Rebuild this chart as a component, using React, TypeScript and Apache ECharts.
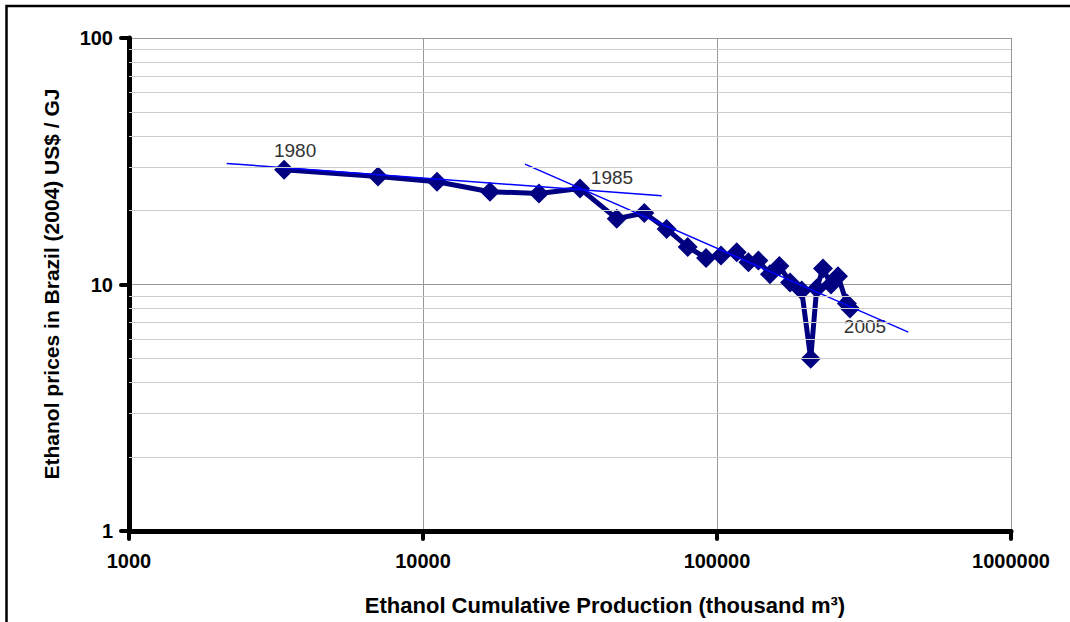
import React, { useEffect, useRef } from "react";
import * as echarts from "echarts";

// Cumulative production (thousand m3) and price (US$/GJ), 1980..2005
const production = [
  3370, 7030, 11160, 16900, 24800, 34200, 45600, 56600, 67400, 79500, 91800,
  103200, 116700, 127900, 138300, 151400, 163000, 177200, 194100, 208300,
  218300, 229400, 244200, 258000, 276600, 283400,
];
const prices = [
  29.2, 27.4, 26.1, 23.8, 23.4, 24.5, 18.5, 19.5, 16.8, 14.2, 12.8, 13.1, 13.5,
  12.3, 12.5, 11.0, 11.9, 10.2, 9.46, 5.0, 9.64, 11.6, 10.0, 10.8, 8.38, 8.0,
];
const yearLabelIndex = [0, 5, 25];
const yearLabelText = ["1980", "1985", "2005"];
const yearLabelOffset = [
  [11, -19],
  [32, -11],
  [15, 18],
];

const trend1X = [2150, 64850];
const trend1Y = [31.0, 22.9];
const trend2X = [22230, 447500];
const trend2Y = [30.8, 6.41];

const yMinorGrid = [2, 3, 4, 5, 6, 7, 8, 9, 20, 30, 40, 50, 60, 70, 80, 90];

const xTitle = "Ethanol Cumulative Production (thousand m³)";
const yTitle = "Ethanol prices in Brazil (2004) US$ / GJ";

const FONT = "'Liberation Sans', Arial, Helvetica, sans-serif";

export default function App() {
  const ref = useRef<HTMLDivElement>(null);

  useEffect(() => {
    if (!ref.current) return;
    const chart = echarts.init(ref.current, undefined, { renderer: "svg" });

    const mainData = production.map((x, i) => {
      const k = yearLabelIndex.indexOf(i);
      if (k < 0) return [x, prices[i]];
      return {
        value: [x, prices[i]],
        label: {
          show: true,
          position: "inside",
          formatter: yearLabelText[k],
          offset: yearLabelOffset[k],
          fontSize: 19,
          color: "#333333",
          fontFamily: FONT,
        },
      };
    });

    const axisLabelStyle = {
      fontSize: 20,
      fontWeight: "bold" as const,
      color: "#000",
      fontFamily: FONT,
    };

    chart.setOption({
      animation: false,
      backgroundColor: "#ffffff",
      grid: {
        left: 129,
        right: 59,
        top: 38,
        bottom: 91,
        containLabel: false,
        outerBoundsMode: "none",
      },
      xAxis: {
        type: "log",
        logBase: 10,
        min: 1000,
        max: 1000000,
        axisLine: { show: true, lineStyle: { color: "#000", width: 5 } },
        axisTick: {
          show: true,
          length: 8,
          lineStyle: { color: "#000", width: 4, cap: "round" },
        },
        axisLabel: {
          ...axisLabelStyle,
          margin: 20,
          showMinLabel: true,
          showMaxLabel: true,
          formatter: (v: number) => String(Math.round(v)),
        },
        splitLine: { show: true, lineStyle: { color: "#999999", width: 1 } },
      },
      yAxis: {
        type: "log",
        logBase: 10,
        min: 1,
        max: 100,
        axisLine: { show: true, lineStyle: { color: "#000", width: 5 } },
        axisTick: {
          show: true,
          length: 8,
          lineStyle: { color: "#000", width: 4, cap: "round" },
        },
        axisLabel: {
          ...axisLabelStyle,
          margin: 16,
          showMinLabel: true,
          showMaxLabel: true,
          formatter: (v: number) => String(Math.round(v)),
        },
        splitLine: { show: true, lineStyle: { color: "#999999", width: 1 } },
      },
      series: [
        {
          type: "line",
          name: "minorGrid",
          data: [],
          z: 1,
          silent: true,
          markLine: {
            silent: true,
            symbol: "none",
            label: { show: false },
            lineStyle: { color: "#cccccc", width: 1, type: "solid" },
            emphasis: { disabled: true },
            data: yMinorGrid.map((v) => ({ yAxis: v })),
          },
        },
        {
          type: "line",
          name: "price",
          data: mainData,
          z: 3,
          symbol: "diamond",
          symbolSize: 20,
          lineStyle: { color: "#000080", width: 5 },
          itemStyle: { color: "#000080" },
        },
        {
          type: "line",
          name: "trend1",
          data: trend1X.map((x, i) => [x, trend1Y[i]]),
          z: 4,
          symbol: "none",
          lineStyle: { color: "#0000ff", width: 1.5 },
        },
        {
          type: "line",
          name: "trend2",
          data: trend2X.map((x, i) => [x, trend2Y[i]]),
          z: 4,
          symbol: "none",
          lineStyle: { color: "#0000ff", width: 1.5 },
        },
      ],
      graphic: [
        {
          type: "polyline",
          shape: {
            points: [
              [6.5, 622],
              [6.5, 6],
              [1070, 6],
            ],
          },
          style: { stroke: "#000", lineWidth: 2.5, fill: null },
          silent: true,
        },
        {
          type: "text",
          x: 605,
          y: 605,
          style: {
            text: xTitle,
            fontSize: 22,
            fontWeight: "bold",
            fontFamily: FONT,
            fill: "#000",
            align: "center",
            verticalAlign: "middle",
          },
        },
        {
          type: "text",
          x: 51,
          y: 284,
          rotation: Math.PI / 2,
          style: {
            text: yTitle,
            fontSize: 21,
            fontWeight: "bold",
            fontFamily: FONT,
            fill: "#000",
            align: "center",
            verticalAlign: "middle",
          },
        },
      ],
    });

    return () => chart.dispose();
  }, []);

  return (
    <div
      ref={ref}
      style={{ position: "absolute", left: 0, top: 0, width: 1070, height: 622 }}
    />
  );
}
